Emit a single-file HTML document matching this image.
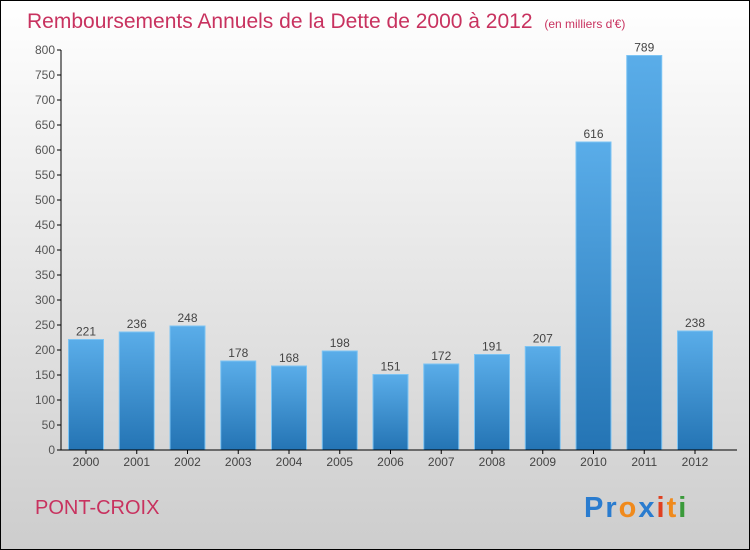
<!DOCTYPE html>
<html><head><meta charset="utf-8"><style>
body{margin:0;}
svg{display:block;font-family:"Liberation Sans",sans-serif;}
</style></head><body>
<svg width="750" height="550" viewBox="0 0 750 550">
<defs>
<linearGradient id="bg" x1="0" y1="0" x2="0" y2="1"><stop offset="0" stop-color="#ffffff"/><stop offset="1" stop-color="#cdcdcd"/></linearGradient>
<linearGradient id="bar" x1="0" y1="0" x2="0" y2="1"><stop offset="0" stop-color="#5aade9"/><stop offset="1" stop-color="#2474b4"/></linearGradient>
</defs>
<rect x="0.5" y="0.5" width="749" height="549" fill="url(#bg)" stroke="#000"/>
<text x="27" y="28" font-size="21" fill="#c8325f">Remboursements Annuels de la Dette de 2000 à 2012 <tspan font-size="12" dx="6">(en milliers d'€)</tspan></text>
<g id="plot"></g>
<text x="35" y="514" font-size="20" fill="#c8325f">PONT-CROIX</text>
<text x="584" y="517" font-size="29" font-weight="bold" letter-spacing="2"><tspan fill="#2a7ccf">Pr</tspan><tspan fill="#f08a1c">o</tspan><tspan fill="#2a7ccf">x</tspan><tspan fill="#e04020">i</tspan><tspan fill="#f08a1c">t</tspan><tspan fill="#3a9a3a">i</tspan></text>
</svg>
<script>
const years=["2000","2001","2002","2003","2004","2005","2006","2007","2008","2009","2010","2011","2012"];
const values=[221,236,248,178,168,198,151,172,191,207,616,789,238];
const yTicks=[0,50,100,150,200,250,300,350,400,450,500,550,600,650,700,750,800];
const NS="http://www.w3.org/2000/svg";
const g=document.getElementById('plot');
const y=v=>450-v*0.5;
const x=i=>86+50.75*i;
function mk(t,a,txt){const e=document.createElementNS(NS,t);for(const k in a)e.setAttribute(k,a[k]);if(txt!=null)e.textContent=txt;g.appendChild(e);return e;}
yTicks.forEach(t=>{
 const l=mk('line',{x1:57,x2:61,y1:y(t),y2:y(t),stroke:'#000'});
 
 
 const tx=mk('text',{x:55,y:y(t)+4,'font-size':12,fill:'#555','text-anchor':'end'},t);
 
 
});
values.forEach((v,i)=>{
 const r=mk('rect',{x:x(i)-17.5,y:y(v),width:35,height:450-y(v),fill:'url(#bar)',stroke:'#7cc4f4','stroke-width':1});
 
 
 const t=mk('text',{x:x(i),y:y(v)-4,'font-size':12,fill:'#444','text-anchor':'middle'},v);
 
 
 const tk=mk('line',{x1:x(i),x2:x(i),y1:450,y2:454,stroke:'#000'});
 
 
 const xl=mk('text',{x:x(i),y:466,'font-size':12,fill:'#444','text-anchor':'middle'},years[i]);
 
 
});
const ya=mk('line',{x1:61,x2:61,y1:50,y2:450,stroke:'#000'});


const xa=mk('line',{x1:61,x2:737,y1:450,y2:450,stroke:'#000'});


</script>
</body></html>
